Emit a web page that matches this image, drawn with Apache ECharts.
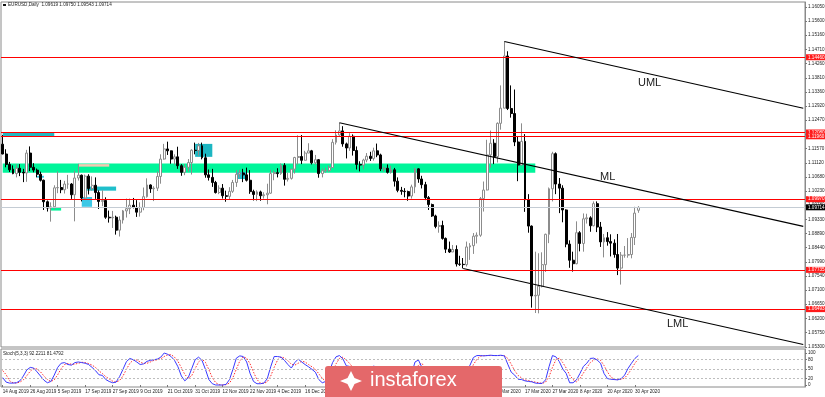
<!DOCTYPE html>
<html><head><meta charset="utf-8">
<script src="https://cdn.jsdelivr.net/npm/echarts@6/dist/echarts.min.js"></script>
<style>html,body{margin:0;padding:0;background:#fff}#c{width:825px;height:397px}</style>
</head><body><div id="c"></div>
<script>
// ---- Data (EURUSD Daily, 14 Aug 2019 .. 1 May 2020) ----
const dateTicks = ["14 Aug 2019","26 Aug 2019","5 Sep 2019","17 Sep 2019","27 Sep 2019","9 Oct 2019","21 Oct 2019","31 Oct 2019","12 Nov 2019","22 Nov 2019","4 Dec 2019","16 Dec 2019","27 Dec 2019","9 Jan 2020","21 Jan 2020","31 Jan 2020","12 Feb 2020","24 Feb 2020","5 Mar 2020","17 Mar 2020","27 Mar 2020","8 Apr 2020","20 Apr 2020","30 Apr 2020"];
const open = [1.1171,1.1140,1.1107,1.1092,1.1078,1.1095,1.1082,1.1080,1.1143,1.1098,1.1089,1.1076,1.1057,1.0989,1.0969,1.0973,1.1033,1.1034,1.1027,1.1045,1.1045,1.1011,1.1064,1.1073,1.1001,1.1070,1.1031,1.1041,1.1018,1.0990,1.0993,1.0940,1.0938,1.0940,1.0899,1.0931,1.0960,1.0967,1.0978,1.0971,1.0956,1.0971,1.1005,1.1042,1.1030,1.1032,1.1069,1.1124,1.1156,1.1150,1.1124,1.1131,1.1103,1.1082,1.1098,1.1113,1.1152,1.1151,1.1166,1.1128,1.1074,1.1066,1.1050,1.1018,1.1032,1.1008,1.1006,1.1022,1.1050,1.1076,1.1080,1.1074,1.1057,1.1021,1.1012,1.1020,1.1008,1.1011,1.1016,1.1078,1.1081,1.1078,1.1104,1.1060,1.1063,1.1092,1.1129,1.1132,1.1120,1.1143,1.1150,1.1112,1.1122,1.1078,1.1087,1.1088,1.1097,1.1177,1.1200,1.1213,1.1172,1.1159,1.1196,1.1151,1.1107,1.1105,1.1121,1.1133,1.1126,1.1150,1.1137,1.1093,1.1095,1.1082,1.1090,1.1054,1.1025,1.1022,1.1021,1.1007,1.1036,1.1093,1.1061,1.1043,1.1002,1.0980,1.0944,1.0911,1.0914,1.0873,1.0839,1.0830,1.0838,1.0792,1.0791,1.0790,1.0846,1.0850,1.0880,1.0883,1.0999,1.1026,1.1137,1.1174,1.1132,1.1237,1.1285,1.1450,1.1284,1.1268,1.1178,1.1105,1.1180,1.0995,1.0912,1.0691,1.0693,1.0722,1.0790,1.0886,1.1030,1.1141,1.1045,1.1032,1.0963,1.0855,1.0804,1.0793,1.0891,1.0857,1.0935,1.0938,1.0913,1.0983,1.0909,1.0862,1.0875,1.0863,1.0858,1.0822,1.0779,1.0820,1.0820,1.0822,1.0876,1.0962];
const high = [1.1200,1.1155,1.1115,1.1104,1.1107,1.1108,1.1093,1.1153,1.1164,1.1111,1.1094,1.1084,1.1059,1.0993,1.0987,1.1041,1.1085,1.1058,1.1055,1.1074,1.1048,1.1087,1.1109,1.1075,1.1075,1.1076,1.1069,1.1066,1.1025,1.1025,1.1003,1.0961,1.0960,1.0945,1.0943,1.0963,1.0999,1.0999,1.1001,1.0994,1.0987,1.1034,1.1063,1.1044,1.1038,1.1085,1.1139,1.1172,1.1179,1.1151,1.1139,1.1163,1.1108,1.1108,1.1124,1.1155,1.1176,1.1175,1.1176,1.1141,1.1091,1.1093,1.1055,1.1041,1.1045,1.1024,1.1035,1.1058,1.1089,1.1090,1.1093,1.1097,1.1089,1.1027,1.1025,1.1024,1.1019,1.1046,1.1090,1.1087,1.1095,1.1110,1.1111,1.1081,1.1093,1.1131,1.1199,1.1200,1.1150,1.1174,1.1153,1.1137,1.1124,1.1094,1.1097,1.1104,1.1187,1.1215,1.1239,1.1228,1.1176,1.1206,1.1202,1.1164,1.1117,1.1125,1.1143,1.1147,1.1160,1.1173,1.1141,1.1100,1.1107,1.1103,1.1096,1.1066,1.1036,1.1032,1.1024,1.1043,1.1096,1.1095,1.1071,1.1052,1.1007,1.0983,1.0948,1.0927,1.0929,1.0876,1.0863,1.0852,1.0851,1.0818,1.0811,1.0863,1.0858,1.0890,1.0892,1.1004,1.1053,1.1185,1.1214,1.1187,1.1240,1.1357,1.1496,1.1465,1.1357,1.1344,1.1197,1.1237,1.1203,1.1013,1.0914,1.0831,1.0826,1.0829,1.0888,1.1034,1.1147,1.1145,1.1064,1.1041,1.0965,1.0867,1.0831,1.0927,1.0896,1.0952,1.0951,1.0943,1.0990,1.0990,1.0925,1.0887,1.0893,1.0886,1.0870,1.0887,1.0830,1.0849,1.0874,1.0890,1.0973,1.0975];
const low = [1.1139,1.1098,1.1083,1.1076,1.1066,1.1070,1.1051,1.1052,1.1086,1.1082,1.1066,1.1053,1.0963,1.0958,1.0926,1.0965,1.1016,1.1016,1.1015,1.1030,1.0998,1.0927,1.1056,1.0990,1.0995,1.1012,1.1024,1.0998,1.0966,1.0975,1.0935,1.0923,1.0906,1.0885,1.0879,1.0920,1.0939,1.0950,1.0968,1.0941,1.0942,1.0962,1.1002,1.1017,1.0991,1.1023,1.1046,1.1122,1.1137,1.1109,1.1106,1.1093,1.1071,1.1073,1.1084,1.1075,1.1139,1.1135,1.1123,1.1065,1.1056,1.1036,1.1015,1.1013,1.0999,1.0989,1.0995,1.1017,1.1036,1.1065,1.1051,1.1053,1.1014,1.0993,1.0991,1.0992,1.0999,1.0981,1.1014,1.1057,1.1066,1.1074,1.1040,1.1053,1.1059,1.1078,1.1106,1.1108,1.1119,1.1143,1.1107,1.1106,1.1065,1.1066,1.1081,1.1083,1.1097,1.1170,1.1198,1.1163,1.1126,1.1150,1.1135,1.1091,1.1085,1.1092,1.1114,1.1118,1.1119,1.1130,1.1086,1.1085,1.1078,1.1078,1.1037,1.1019,1.1011,1.1003,1.0992,1.0999,1.1016,1.1049,1.1031,1.0994,1.0963,1.0941,1.0905,1.0891,1.0869,1.0827,1.0827,1.0830,1.0784,1.0786,1.0778,1.0784,1.0805,1.0824,1.0857,1.0878,1.0958,1.1025,1.1097,1.1108,1.1113,1.1217,1.1285,1.1279,1.1255,1.1165,1.1054,1.1104,1.0957,1.0891,1.0654,1.0637,1.0636,1.0718,1.0767,1.0858,1.0990,1.1013,1.0953,1.0924,1.0845,1.0780,1.0768,1.0791,1.0832,1.0831,1.0920,1.0894,1.0911,1.0893,1.0846,1.0813,1.0850,1.0816,1.0812,1.0757,1.0727,1.0812,1.0812,1.0810,1.0852,1.0954];
const close = [1.1140,1.1107,1.1090,1.1078,1.1095,1.1082,1.1080,1.1143,1.1098,1.1089,1.1076,1.1057,1.0989,1.0969,1.0973,1.1033,1.1034,1.1027,1.1045,1.1045,1.1011,1.1064,1.1073,1.1001,1.1070,1.1031,1.1041,1.1018,1.0990,1.0993,1.0940,1.0938,1.0940,1.0899,1.0931,1.0960,1.0967,1.0978,1.0971,1.0956,1.0971,1.1005,1.1042,1.1030,1.1032,1.1069,1.1124,1.1156,1.1150,1.1124,1.1131,1.1103,1.1082,1.1098,1.1113,1.1152,1.1151,1.1166,1.1128,1.1074,1.1066,1.1050,1.1018,1.1032,1.1008,1.1006,1.1022,1.1050,1.1076,1.1080,1.1074,1.1057,1.1021,1.1012,1.1020,1.1008,1.1011,1.1016,1.1078,1.1081,1.1078,1.1104,1.1060,1.1063,1.1092,1.1129,1.1132,1.1120,1.1143,1.1150,1.1112,1.1122,1.1078,1.1087,1.1088,1.1097,1.1177,1.1200,1.1213,1.1172,1.1159,1.1196,1.1151,1.1107,1.1105,1.1121,1.1133,1.1126,1.1150,1.1137,1.1093,1.1095,1.1082,1.1090,1.1054,1.1025,1.1022,1.1021,1.1007,1.1036,1.1093,1.1061,1.1043,1.1002,1.0980,1.0944,1.0911,1.0914,1.0873,1.0839,1.0830,1.0838,1.0792,1.0791,1.0790,1.0846,1.0850,1.0880,1.0883,1.0999,1.1026,1.1137,1.1174,1.1132,1.1237,1.1285,1.1450,1.1284,1.1268,1.1178,1.1105,1.1180,1.0995,1.0912,1.0691,1.0693,1.0722,1.0790,1.0886,1.1030,1.1141,1.1045,1.1032,1.0963,1.0855,1.0804,1.0793,1.0891,1.0857,1.0935,1.0938,1.0913,1.0983,1.0909,1.0862,1.0875,1.0863,1.0858,1.0822,1.0779,1.0820,1.0820,1.0822,1.0876,1.0953,1.0971];
const stochMain = [23,9,6,6,7,13,28,47,55,53,41,28,15,7,11,31,55,68,70,64,62,70,72,70,68,64,55,45,32,30,17,11,7,9,26,49,73,83,79,72,64,66,74,77,79,81,87,100,96,89,77,57,28,13,23,51,79,87,77,49,17,4,0,0,0,2,17,49,84,91,89,72,36,11,4,4,6,20,57,89,89,87,77,64,53,70,81,72,64,57,49,40,17,7,11,40,70,88,92,82,60,58,40,25,20,30,45,42,60,50,20,15,12,15,8,5,5,10,8,35,72,78,55,20,8,5,4,6,3,3,5,8,4,6,8,45,62,86,92,92,91,92,93,92,92,93,91,65,40,31,18,17,13,11,10,6,5,5,16,57,92,88,73,50,36,7,7,16,36,58,68,83,84,78,68,36,20,18,17,16,20,31,52,68,83,92.2211];
const stochSignal = [45,32,13,7,6,9,16,29,43,52,50,41,28,17,11,16,32,51,64,67,65,65,68,71,70,67,62,55,44,36,26,19,12,9,14,28,49,68,78,78,72,67,68,72,77,79,82,89,94,95,87,74,54,33,21,29,51,72,81,71,48,23,7,1,0,1,6,23,50,75,88,84,66,40,17,6,5,10,28,55,78,88,84,76,65,62,68,74,72,64,57,49,35,21,12,19,40,66,83,87,78,67,53,41,28,25,32,39,49,51,43,28,16,14,12,9,6,7,8,18,38,62,68,51,28,11,6,5,4,4,4,5,6,6,6,20,38,64,80,90,92,92,92,92,92,92,92,83,65,45,30,22,16,14,11,9,7,5,9,26,55,79,84,70,53,31,17,10,20,37,54,70,78,82,77,61,41,25,18,17,18,22,34,50,68,81.4792];
const priceTicks = ["1.16050","1.15600","1.15160","1.14710","1.14260","1.13810","1.13360","1.12920","1.12470","1.12020","1.11570","1.11120","1.10680","1.10230","1.09780","1.09330","1.08890","1.08440","1.07990","1.07540","1.07100","1.06650","1.06200","1.05750","1.05300"];
const stochTicks = [0, 20, 50, 80, 100];
const stochLevels = [20, 50, 80];
const redLevels = [1.14460, 1.12080, 1.11960, 1.09970, 1.07735, 1.06493];
const currentPrice = 1.09714;
const header = "EURUSD,Daily  1.09619 1.09750 1.09543 1.09714";
const stochHeader = "Stoch(5,3,3) 92.2211 81.4792";
// pitchfork anchor points [bar index, price]
const pfPivot = [98, 1.1239], pfUpper = [146, 1.1496], pfLower = [134, 1.0778];
// rectangles [fromBar, topPrice, toBar, bottomPrice, colour]
const rects = [
  [0, 1.1110, 155, 1.1081, '#00F59A'],
  [0, 1.1208, 15, 1.1197, '#22B8C2'],
  [22, 1.1108, 31, 1.1100, '#F3C9B2'],
  [24, 1.1037, 33, 1.1024, '#1FBFCB'],
  [23, 1.1004, 26, 1.0973, '#3CC8E6'],
  [14, 1.0970, 17, 1.0961, '#00F59A'],
  [10, 1.1071, 12, 1.1065, '#3CC8E6'],
  [56, 1.1172, 61, 1.1131, '#1CB6C2'],
  [68, 1.1083, 71, 1.1061, '#22C0CC']
];

const NCAT = 234;
const cats = Array.from({length: NCAT}, (_, i) => String(i));
const candles = open.map((o, i) => [o, close[i], low[i], high[i]]);
const lastIdx = NCAT - 1;
const midIdx = (pfUpper[0] + pfLower[0]) / 2, midPrice = (pfUpper[1] + pfLower[1]) / 2;
const slope = (midPrice - pfPivot[1]) / (midIdx - pfPivot[0]);
const pfStyle = {lineStyle: {color: '#000', width: 1.1, type: 'solid'}, label: {show: false}};
const lineTo = (p) => [Object.assign({coord: p}, pfStyle), {coord: [lastIdx, p[1] + slope * (lastIdx - p[0])]}];

const FONT = 'Liberation Sans';
const chart = echarts.init(document.getElementById('c'), null, {renderer: 'canvas'});
const tickIdx = (i) => i % 8 === 0 && i / 8 < dateTicks.length;
const boxLabel = (txt, bg) => ({show: true, position: 'end', distance: 1, formatter: txt, backgroundColor: bg, color: '#ffffff', fontSize: 4.6, padding: [0.5, 2, 0.5, 2], fontFamily: FONT});

chart.setOption({
  animation: false,
  backgroundColor: '#ffffff',
  grid: [
    {left: 1, top: 2, width: 804, height: 345, show: true, borderColor: '#8a8a8a', borderWidth: 1, containLabel: false, outerBoundsMode: 'none'},
    {left: 1, top: 349, width: 804, height: 38, show: true, borderColor: '#8a8a8a', borderWidth: 1, containLabel: false, outerBoundsMode: 'none'}
  ],
  xAxis: [
    {type: 'category', gridIndex: 0, data: cats, boundaryGap: true, axisLabel: {show: false}, axisTick: {show: false}, axisLine: {show: false}, splitLine: {show: false}},
    {type: 'category', gridIndex: 1, data: cats, boundaryGap: true, axisLine: {show: false},
     axisTick: {show: true, interval: (i) => tickIdx(i), length: 2, alignWithLabel: true, lineStyle: {color: '#777'}},
     axisLabel: {show: true, interval: (i) => tickIdx(i), formatter: (v, i) => dateTicks[i / 8] || '', align: 'left', fontSize: 4.6, color: '#222', margin: 2, fontFamily: FONT},
     splitLine: {show: false}}
  ],
  yAxis: [
    {type: 'value', gridIndex: 0, position: 'right', min: 1.05295, max: 1.16208, scale: true,
     axisLine: {show: true, lineStyle: {color: '#8a8a8a'}},
     axisTick: {show: true, length: 2, customValues: priceTicks.map(Number), lineStyle: {color: '#777'}},
     axisLabel: {show: true, customValues: priceTicks.map(Number), formatter: (v) => v.toFixed(5), fontSize: 4.6, color: '#222', margin: 3, fontFamily: FONT},
     splitLine: {show: false}},
    {type: 'value', gridIndex: 1, position: 'right', min: -6.25, max: 112.5,
     axisLine: {show: true, lineStyle: {color: '#8a8a8a'}},
     axisTick: {show: true, length: 2, customValues: stochTicks, lineStyle: {color: '#777'}},
     axisLabel: {show: true, customValues: stochTicks, fontSize: 4.6, color: '#222', margin: 3, fontFamily: FONT},
     splitLine: {show: false}}
  ],
  series: [
    {type: 'line', name: 'objects', xAxisIndex: 0, yAxisIndex: 0, data: [], silent: true, z: 1,
     markArea: {silent: true, data: rects.map(r => [
       {xAxis: r[0], yAxis: r[1], itemStyle: {color: r[4], opacity: 1}},
       {xAxis: r[2], yAxis: r[3]}
     ])}},
    {type: 'candlestick', name: 'EURUSD', xAxisIndex: 0, yAxisIndex: 0, data: candles, z: 3, barWidth: 2.4,
     itemStyle: {color: '#ffffff', color0: '#000000', borderColor: '#8c8c8c', borderColor0: '#000000', borderWidth: 1}},
    {type: 'line', name: 'lines', xAxisIndex: 0, yAxisIndex: 0, data: [], silent: true, z: 4,
     markLine: {silent: true, symbol: ['none', 'none'], precision: 6,
       data: [
         ...redLevels.map(v => ({yAxis: v, lineStyle: {color: '#ff0000', width: 1, type: 'solid'}, label: boxLabel(v.toFixed(5), '#ff1a1a')})),
         {yAxis: currentPrice, lineStyle: {color: '#c4ccd4', width: 1, type: 'solid'}, label: boxLabel(currentPrice.toFixed(5), '#000000')},
         lineTo(pfPivot), lineTo(pfUpper), lineTo(pfLower)
       ]}},
    {type: 'line', name: 'Stoch levels', xAxisIndex: 1, yAxisIndex: 1, data: [], silent: true, z: 1,
     markLine: {silent: true, symbol: ['none', 'none'], precision: 6, label: {show: false},
       data: stochLevels.map(v => ({yAxis: v, lineStyle: {color: '#bdbdbd', width: 1, type: [2, 2]}}))}},
    {type: 'line', name: 'Signal', xAxisIndex: 1, yAxisIndex: 1, data: stochSignal, showSymbol: false, symbol: 'none', z: 2,
     lineStyle: {color: '#ff3030', width: 1, type: [1.5, 1.5]}},
    {type: 'line', name: 'Main', xAxisIndex: 1, yAxisIndex: 1, data: stochMain, showSymbol: false, symbol: 'none', z: 3,
     lineStyle: {color: '#3a3aff', width: 1}}
  ],
  graphic: [
    {type: 'rect', left: 3, top: 4, shape: {width: 3, height: 2}, style: {fill: '#111'}},
    {type: 'text', left: 8, top: 2.6, style: {text: header, font: '4.6px ' + FONT, fill: '#222'}},
    {type: 'text', left: 3, top: 351.5, style: {text: stochHeader, font: '4.6px ' + FONT, fill: '#222'}},
    {type: 'text', left: 638, top: 77.5, style: {text: 'UML', font: '11px ' + FONT, fill: '#1a1a1a'}},
    {type: 'text', left: 600, top: 171.5, style: {text: 'ML', font: '11px ' + FONT, fill: '#1a1a1a'}},
    {type: 'text', left: 667, top: 318.5, style: {text: 'LML', font: '11px ' + FONT, fill: '#1a1a1a'}},
    {type: 'rect', left: 325, top: 366, z: 100, shape: {width: 177, height: 31, r: [3, 3, 0, 0]}, style: {fill: '#E4686A'}},
    {type: 'polygon', z: 101, shape: {points: [[351, 371], [354.5, 378], [362, 381], [354.5, 384], [351, 391], [347.5, 384], [340, 381], [347.5, 378]]}, style: {fill: '#ffffff'}},
    {type: 'text', left: 370, top: 370, z: 101, style: {text: 'instaforex', font: '20px ' + FONT, fill: '#ffffff'}}
  ]
});
</script>
</body></html>
